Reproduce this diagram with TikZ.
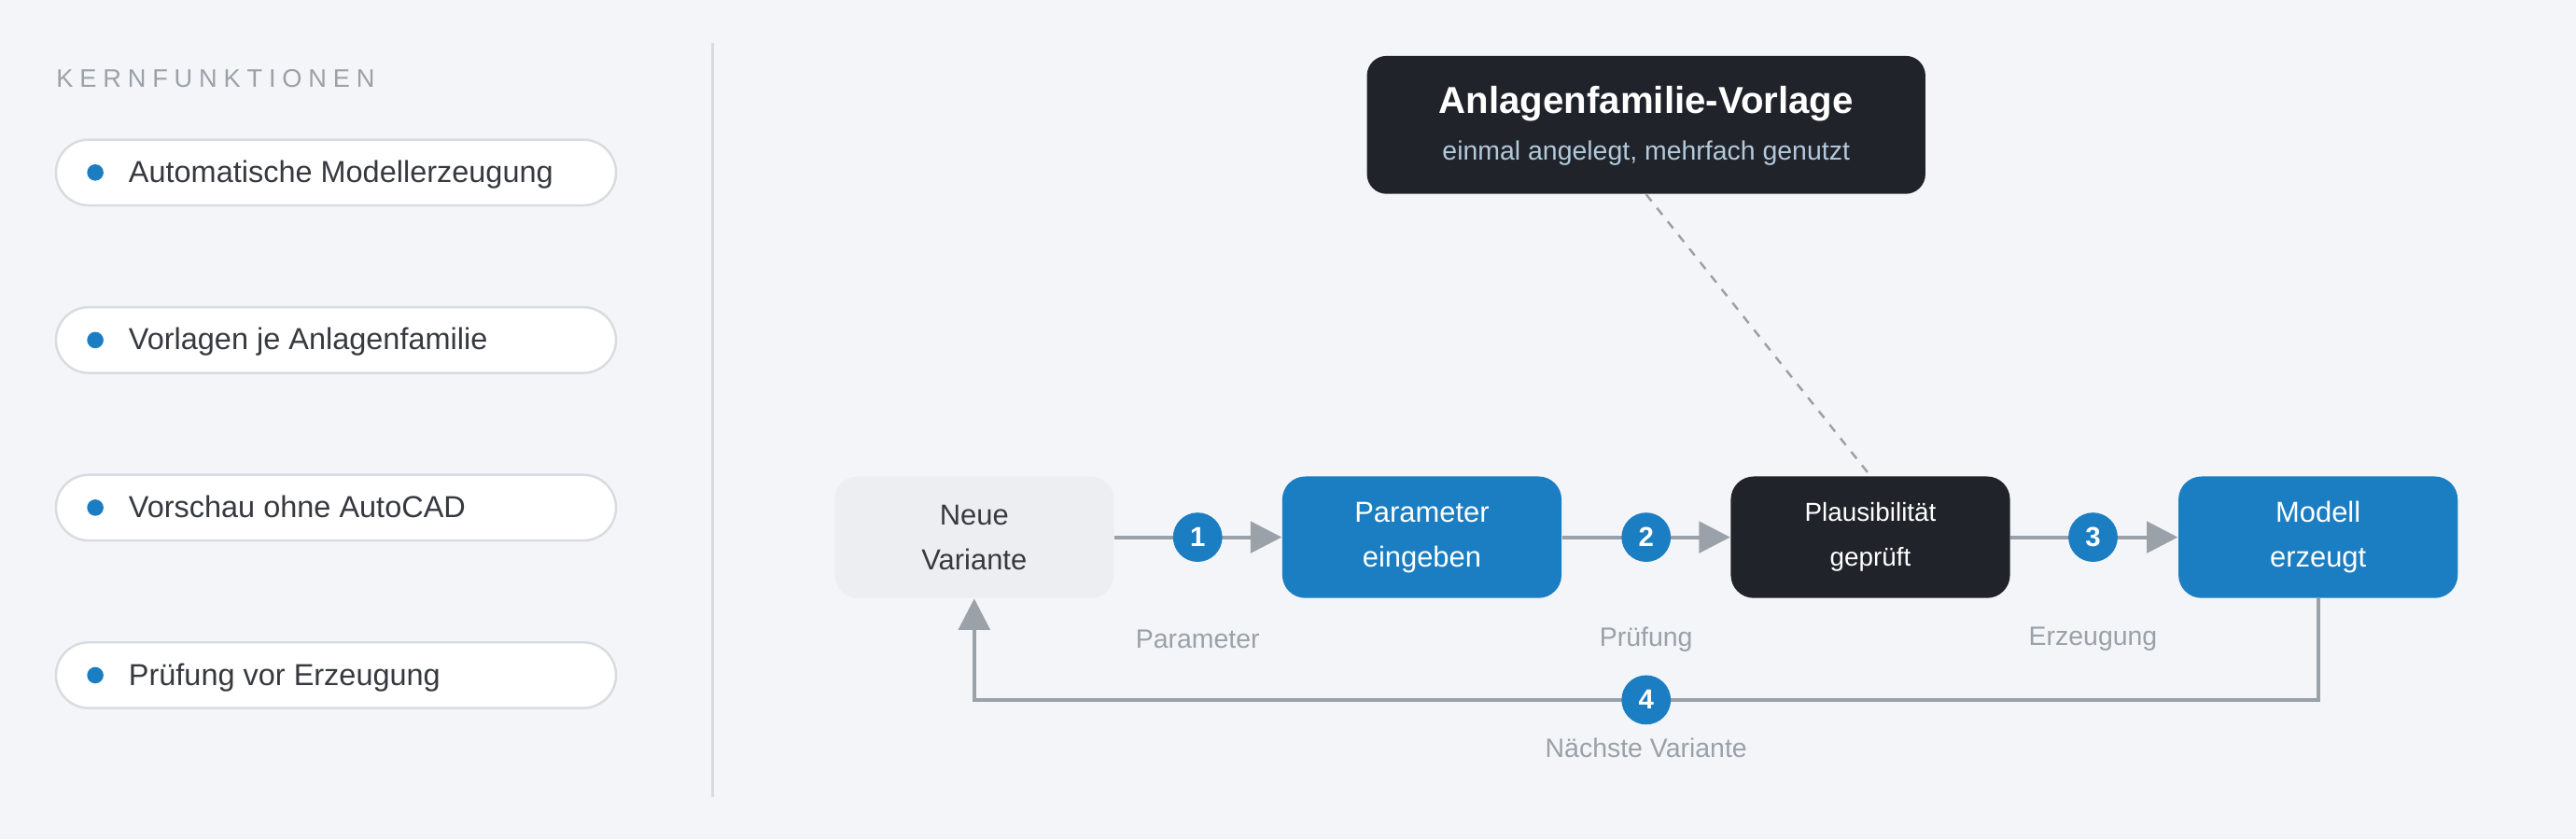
\documentclass[tikz,border=0pt]{standalone}
\usepackage{fontspec}
\setmainfont{Liberation Sans}
\usetikzlibrary{positioning,arrows.meta}
\definecolor{bg}{HTML}{F4F5F8}
\definecolor{accent}{HTML}{1B7EC2}
\definecolor{ink}{HTML}{20232A}
\definecolor{muted}{HTML}{9AA1A9}
\definecolor{pale}{HTML}{ECEEF1}
\definecolor{rim}{HTML}{D8DCE1}
\tikzset{
  pill/.style={draw=rim, line width=0.8pt, fill=white, rounded corners=0.4cm, minimum width=6.82cm, minimum height=0.8cm},
  stage/.style={rounded corners=0.28cm, minimum width=3.4cm, minimum height=1.48cm, align=center, font=\fontsize{10}{15.5}\selectfont},
  badge/.style={circle, fill=accent, text=white, minimum size=0.6cm, inner sep=0pt, font=\bfseries\fontsize{9.5}{10}\selectfont},
  flow/.style={muted, line width=1.3pt, -{Triangle[length=0.38cm, width=0.38cm]}},
  note/.style={text=muted, font=\fontsize{9.2}{11}\selectfont}
}
\begin{document}
\begin{tikzpicture}[x=0.02cm, y=-0.02cm]

\fill[bg] (0,0) rectangle (1568,511);
\useasboundingbox (0,0) rectangle (1568,511);

% left column
\node[anchor=west, inner sep=0pt, text=muted, font=\addfontfeatures{LetterSpace=25}\fontsize{8.8}{10}\selectfont] (head) at (34,48) {KERNFUNKTIONEN};
\foreach \y/\t [count=\i] in {105/Automatische Modellerzeugung, 207/Vorlagen je Anlagenfamilie, 309/Vorschau ohne AutoCAD, 411/Prüfung vor Erzeugung} {
  \node[pill] (pill\i) at (204.5,\y) {};
  \fill[accent] (58,\y) circle (5);
  \node[anchor=base west, inner sep=0pt, text=ink!90, font=\fontsize{10.5}{12}\selectfont] at (78,\y+6) {\t};
}

\draw[rim, line width=1pt] (434,26) -- (434,485);

% template
\node[fill=ink, rounded corners=0.24cm, minimum width=6.8cm, minimum height=1.68cm] (tpl) at (1002,76) {};
\node[text=white, font=\bfseries\fontsize{13}{15}\selectfont] at (1002,63) {Anlagenfamilie-Vorlage};
\node[text=rim!80!accent, font=\fontsize{9.2}{11}\selectfont] at (1002,93) {einmal angelegt, mehrfach genutzt};

% flow
\node[stage, fill=pale, text=ink!90] (neu) at (593,327) {Neue\\Variante};
\node[stage, fill=accent, text=white] (par) at (865.5,327) {Parameter\\eingeben};
\node[stage, fill=ink, text=white, font=\fontsize{9}{15.5}\selectfont] (pla) at (1138.5,327) {Plausibilität\\geprüft};
\node[stage, fill=accent, text=white] (mod) at (1411,327) {Modell\\erzeugt};

\draw[muted, dashed, line width=0.8pt] (tpl.south) -- (pla.north);

\draw[flow] (neu) -- (par);
\draw[flow] (par) -- (pla);
\draw[flow] (pla) -- (mod);
\node[badge] (b1) at (729,327) {1};
\node[badge] (b2) at (1002,327) {2};
\node[badge] (b3) at (1274,327) {3};
\node[note] at (729,389) {Parameter};
\node[note] at (1002,389) {Prüfung};
\node[note] at (1274,389) {Erzeugung};

\coordinate (loop) at (1002,426);
\draw[flow] (mod.south) |- (loop) -| (neu.south);
\node[badge] (b4) at (loop) {4};
\node[note] at (1002,455) {Nächste Variante};

\end{tikzpicture}
\end{document}
